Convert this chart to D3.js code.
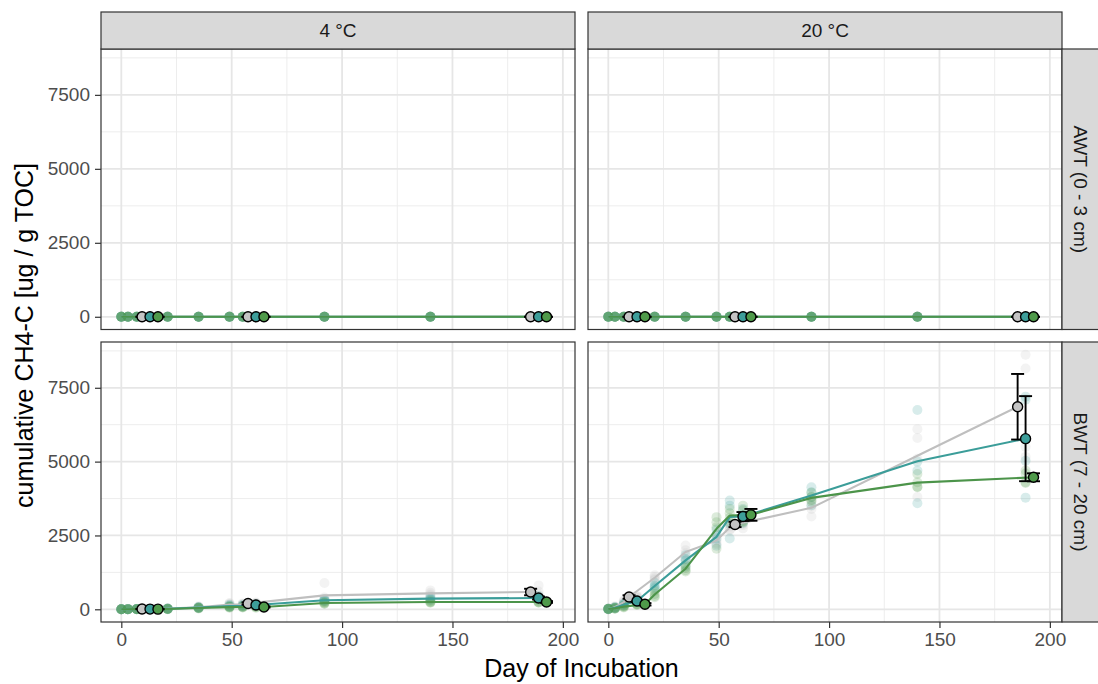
<!DOCTYPE html>
<html><head><meta charset="utf-8">
<script src="https://cdn.jsdelivr.net/npm/d3@7"></script>
<style>
body{margin:0;background:#fff}
text{font-family:"Liberation Sans",Arial,Helvetica,sans-serif}
</style>
</head><body>
<svg id="c" width="1098" height="684"></svg>
<script>
// ---------------- data ----------------
const temps = ["4 °C", "20 °C"];
const depths = ["AWT (0 - 3 cm)", "BWT (7 - 20 cm)"];
const seriesNames = ["series 1", "series 2", "series 3"];
const rawDays = [0, 3, 7, 13, 21, 35, 49, 55, 61, 92, 140, 189];
const summaryDays = [13, 61, 189];
const xTicks = [0, 50, 100, 150, 200];
const yTicks = [0, 2500, 5000, 7500];

// replicate values (rows follow rawDays)
const awtReps = [
  [0,0,0,0],[0,0,0,0],[0,0,0,0],[0,0,0,0],[0,0,0,0],[0,0,0,0],
  [0,0,0,0],[0,0,0,0],[0,0,0,0],[0,0,0,0],[0,0,0,0],[0,0,0,0]
];
const bwt4Grey = [
  [0,0,0,0],[0,5,5,10],[5,10,10,15],[5,10,10,15],[10,20,25,30],[40,60,80,100],
  [100,150,190,210],[120,150,180,200],[150,190,210,230],[890,400,330,270],[640,560,500,460],[810,600,500,430]
];
const bwt4Teal = [
  [0,0,0,0],[0,5,5,5],[5,5,10,10],[5,5,10,10],[10,15,20,25],[40,50,60,80],
  [80,100,120,150],[90,110,130,150],[110,140,160,180],[340,310,290,276],[420,370,340,314],[450,400,350,330]
];
const bwt4Green = [
  [0,0,0,0],[0,0,5,5],[0,5,5,10],[0,5,5,10],[5,10,15,20],[30,40,50,60],
  [50,70,80,100],[60,70,90,100],[55,75,85,100],[240,220,200,192],[280,250,240,222],[280,250,230,232]
];
const bwt20Grey = [
  [0,10,15,20],[40,60,80,100],[180,220,260,300],[380,400,430,454],[1150,1090,1040,990],[2160,2000,1900,1700],
  [2500,2350,2250,2200],[2900,2800,2700,2680],[3000,2900,2850,2740],[3700,3500,3400,3140],[6100,5800,5100,3800],[8620,8150,5500,5160]
];
const bwt20Teal = [
  [0,10,15,20],[30,40,60,70],[120,150,170,190],[250,270,290,314],[900,800,750,700],[1830,1700,1650,1450],
  [2700,2550,2400,2150],[3680,3510,2900,2400],[3400,3200,3050,2920],[4130,3960,3800,3520],[6750,5000,4700,3590],[7200,7100,5030,3780]
];
const bwt20Green = [
  [0,10,15,20],[20,30,40,50],[60,80,100,120],[150,160,175,190],[620,520,450,410],[1500,1400,1320,1280],
  [3120,2950,2780,2050],[3400,3250,3100,2950],[3510,3350,2950,2980],[3950,3800,3700,3640],[4580,4300,4150,4130],[4700,4600,4300,4280]
];
// error (half-width) at summaryDays
const awtSE = [0, 0, 0];
const bwt4SEGrey = [5, 40, 110];
const bwt4SETeal = [5, 30, 50];
const bwt4SEGreen = [5, 20, 30];
const bwt20SEGrey = [60, 90, 1110];
const bwt20SETeal = [40, 150, 1440];
const bwt20SEGreen = [40, 200, 135];

const rawTable = {
  "AWT (0 - 3 cm)": {"4 °C": [awtReps, awtReps, awtReps], "20 °C": [awtReps, awtReps, awtReps]},
  "BWT (7 - 20 cm)": {"4 °C": [bwt4Grey, bwt4Teal, bwt4Green], "20 °C": [bwt20Grey, bwt20Teal, bwt20Green]}
};
const seTable = {
  "AWT (0 - 3 cm)": {"4 °C": [awtSE, awtSE, awtSE], "20 °C": [awtSE, awtSE, awtSE]},
  "BWT (7 - 20 cm)": {"4 °C": [bwt4SEGrey, bwt4SETeal, bwt4SEGreen], "20 °C": [bwt20SEGrey, bwt20SETeal, bwt20SEGreen]}
};

// ---------------- layout / style ----------------
const svg = d3.select("#c");
const colX = [[101, 575], [588, 1062]];
const rowY = [[49, 329.5], [342, 622]];
const xDomain = [-9.2, 205.5], yDomain = [-430, 9050];
const fills = ["#c4c4c4", "#3d9e9a", "#4f9a4a"];
const lineCols = ["#bfbfbf", "#3b9d99", "#4c944a"];
const dodge = 3.6;
const xMinor = [25, 75, 125, 175];
const yMinor = [1250, 3750, 6250, 8750];
const ink = "#333333";
const fmt = d3.format("d");

svg.append("rect").attr("width", 1098).attr("height", 684).attr("fill", "#fff");

depths.forEach((dep, r) => temps.forEach((tmp, c) => {
  const x = d3.scaleLinear().domain(xDomain).range(colX[c]);
  const y = d3.scaleLinear().domain(yDomain).range([rowY[r][1], rowY[r][0]]);
  const [x0, x1] = colX[c], [y0, y1] = rowY[r];
  const g = svg.append("g");

  // grid
  g.selectAll(".gxm").data(xMinor).join("line")
    .attr("x1", d => x(d)).attr("x2", d => x(d)).attr("y1", y0).attr("y2", y1)
    .attr("stroke", "#ebebeb").attr("stroke-width", 0.9);
  g.selectAll(".gym").data(yMinor).join("line")
    .attr("y1", d => y(d)).attr("y2", d => y(d)).attr("x1", x0).attr("x2", x1)
    .attr("stroke", "#ebebeb").attr("stroke-width", 0.9);
  g.selectAll(".gx").data(xTicks).join("line")
    .attr("x1", d => x(d)).attr("x2", d => x(d)).attr("y1", y0).attr("y2", y1)
    .attr("stroke", "#e6e6e6").attr("stroke-width", 1.8);
  g.selectAll(".gy").data(yTicks).join("line")
    .attr("y1", d => y(d)).attr("y2", d => y(d)).attr("x1", x0).attr("x2", x1)
    .attr("stroke", "#e6e6e6").attr("stroke-width", 1.8);

  const raws = rawTable[dep][tmp];
  const ses = seTable[dep][tmp];

  // raw replicate points
  raws.forEach((reps, s) => {
    const pts = [];
    reps.forEach((row, i) => row.forEach(v => pts.push([rawDays[i], v])));
    g.append("g").selectAll("circle").data(pts).join("circle")
      .attr("cx", d => x(d[0])).attr("cy", d => y(d[1])).attr("r", 5)
      .attr("fill", fills[s]).attr("fill-opacity", 0.2);
  });

  // mean lines (dodged at summary days)
  raws.forEach((reps, s) => {
    const off = (s - 1) * dodge;
    const pts = rawDays.map((d, i) => [summaryDays.includes(d) ? d + off : d, d3.mean(reps[i])]);
    g.append("path").datum(pts)
      .attr("d", d3.line().x(d => x(d[0])).y(d => y(d[1])))
      .attr("fill", "none").attr("stroke", lineCols[s]).attr("stroke-width", 2.1)
      .attr("stroke-linejoin", "round");
  });

  // error bars and mean points
  raws.forEach((reps, s) => {
    const off = (s - 1) * dodge;
    const pts = summaryDays.map((d, k) => {
      const m = d3.mean(reps[rawDays.indexOf(d)]);
      return {x: d + off, m, lo: m - ses[s][k], hi: m + ses[s][k]};
    });
    const eb = g.append("g").attr("stroke", "#000").attr("stroke-width", 1.9);
    pts.forEach(p => {
      const cx = x(p.x);
      eb.append("line").attr("x1", cx).attr("x2", cx).attr("y1", y(p.lo)).attr("y2", y(p.hi));
      eb.append("line").attr("x1", cx - 6.5).attr("x2", cx + 6.5).attr("y1", y(p.lo)).attr("y2", y(p.lo));
      eb.append("line").attr("x1", cx - 6.5).attr("x2", cx + 6.5).attr("y1", y(p.hi)).attr("y2", y(p.hi));
    });
  });
  raws.forEach((reps, s) => {
    const off = (s - 1) * dodge;
    const pts = summaryDays.map(d => [d + off, d3.mean(reps[rawDays.indexOf(d)])]);
    g.append("g").selectAll("circle").data(pts).join("circle")
      .attr("cx", d => x(d[0])).attr("cy", d => y(d[1])).attr("r", 5)
      .attr("fill", fills[s]).attr("stroke", "#000").attr("stroke-width", 1.4);
  });

  // panel border
  g.append("rect").attr("x", x0).attr("y", y0).attr("width", x1 - x0).attr("height", y1 - y0)
    .attr("fill", "none").attr("stroke", ink).attr("stroke-width", 1.2);

  // axes
  if (c === 0) {
    const ax = g.append("g").attr("transform", `translate(${x0},0)`)
      .call(d3.axisLeft(y).tickValues(yTicks).tickFormat(fmt).tickSize(6).tickPadding(5));
    ax.select(".domain").remove();
    ax.selectAll("line").attr("stroke", ink).attr("stroke-width", 1.2);
    ax.selectAll("text").attr("fill", "#4d4d4d").attr("font-size", 19)
      .style("font-family", '"Liberation Sans",Arial,sans-serif');
  }
  if (r === 1) {
    const ax = g.append("g").attr("transform", `translate(0,${y1})`)
      .call(d3.axisBottom(x).tickValues(xTicks).tickFormat(fmt).tickSize(6).tickPadding(5));
    ax.select(".domain").remove();
    ax.selectAll("line").attr("stroke", ink).attr("stroke-width", 1.2);
    ax.selectAll("text").attr("fill", "#4d4d4d").attr("font-size", 19)
      .style("font-family", '"Liberation Sans",Arial,sans-serif');
  }

  // strips
  if (r === 0) {
    g.append("rect").attr("x", x0).attr("y", 12).attr("width", x1 - x0).attr("height", y0 - 12)
      .attr("fill", "#d9d9d9").attr("stroke", ink).attr("stroke-width", 1.2);
    g.append("text").attr("x", (x0 + x1) / 2).attr("y", (12 + y0) / 2).attr("dy", "0.35em")
      .attr("text-anchor", "middle").attr("font-size", 19).attr("fill", "#1a1a1a").text(tmp);
  }
  if (c === 1) {
    g.append("rect").attr("x", x1).attr("y", y0).attr("width", 37).attr("height", y1 - y0)
      .attr("fill", "#d9d9d9").attr("stroke", ink).attr("stroke-width", 1.2);
    g.append("text").attr("transform", `translate(${x1 + 18.5},${(y0 + y1) / 2}) rotate(90)`)
      .attr("dy", "0.35em").attr("text-anchor", "middle").attr("font-size", 19)
      .attr("fill", "#1a1a1a").text(dep);
  }
}));

// axis titles
svg.append("text").attr("x", (colX[0][0] + colX[1][1]) / 2).attr("y", 677)
  .attr("text-anchor", "middle").attr("font-size", 25).attr("fill", "#000").text("Day of Incubation");
svg.append("text").attr("transform", `translate(24,${(rowY[0][0] + rowY[1][1]) / 2}) rotate(-90)`)
  .attr("dy", "0.35em").attr("text-anchor", "middle").attr("font-size", 25).attr("fill", "#000")
  .text("cumulative CH4-C [ug / g TOC]");
</script>
</body></html>
